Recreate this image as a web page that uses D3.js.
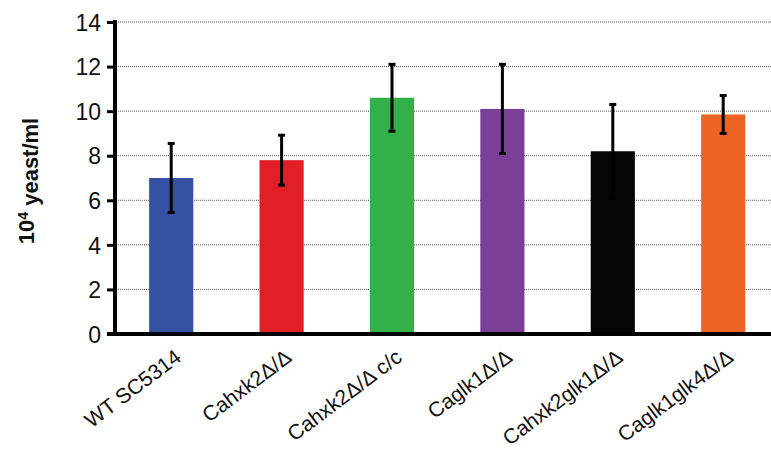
<!DOCTYPE html>
<html><head><meta charset="utf-8">
<script src="https://cdn.jsdelivr.net/npm/d3@7"></script>
<style>body{margin:0;background:#fff}svg{display:block}</style>
</head><body><svg id="c" width="771" height="450"></svg>
<script>
const categories = ["WT SC5314","Cahxk2Δ/Δ","Cahxk2Δ/Δ c/c","Caglk1Δ/Δ","Cahxk2glk1Δ/Δ","Caglk1glk4Δ/Δ"];
const values = [7.0, 7.8, 10.6, 10.1, 8.2, 9.85];
const errors = [1.55, 1.12, 1.5, 2.0, 2.1, 0.85];
const colors = ["#3451a3","#e21f26","#34b04a","#7b3f98","#050505","#eb6424"];
const yTicks = [0,2,4,6,8,10,12,14];

const svg = d3.select("#c");
const x = d3.scaleBand().domain(categories).range([116, 778.4]).paddingInner(0.6).paddingOuter(0.3);
const y = d3.scaleLinear().domain([0,14]).range([334, 22]);

// gridlines
svg.append("g").selectAll("line").data(yTicks.filter(d=>d>0)).join("line")
  .attr("x1",116).attr("x2",771).attr("y1",d=>y(d)).attr("y2",d=>y(d))
  .attr("stroke","#555").attr("stroke-width",1).attr("stroke-dasharray","1,1");

// bars
svg.append("g").selectAll("rect").data(categories).join("rect")
  .attr("x",d=>x(d)).attr("width",x.bandwidth())
  .attr("y",(d,i)=>y(values[i])).attr("height",(d,i)=>y(0)-y(values[i]))
  .attr("fill",(d,i)=>colors[i]);

// error bars
const eg = svg.append("g").attr("stroke","#000").attr("stroke-width",3);
categories.forEach((c,i)=>{
  const cx = x(c)+x.bandwidth()/2;
  eg.append("line").attr("x1",cx).attr("x2",cx).attr("y1",y(values[i]+errors[i])).attr("y2",y(values[i]-errors[i]));
  [values[i]+errors[i], values[i]-errors[i]].forEach(v=>{
    eg.append("line").attr("x1",cx-3.5).attr("x2",cx+3.5).attr("y1",y(v)).attr("y2",y(v));
  });
});

// y axis
const ya = svg.append("g").attr("transform","translate(115,0)")
  .call(d3.axisLeft(y).tickValues(yTicks).tickSize(8).tickPadding(6).tickFormat(d3.format("d")));
ya.select(".domain").remove();
ya.selectAll(".tick line").attr("stroke","#000").attr("stroke-width",3);
ya.selectAll(".tick text").attr("font-family","Liberation Sans, Arial, sans-serif").attr("font-size",23).attr("fill","#111").attr("dy","0.36em");
svg.append("line").attr("x1",115).attr("x2",115).attr("y1",y(14)-2).attr("y2",y(0)+2).attr("stroke","#000").attr("stroke-width",4);
svg.append("line").attr("x1",107).attr("x2",771).attr("y1",y(0)).attr("y2",y(0)).attr("stroke","#000").attr("stroke-width",4);

// x labels
const xa = svg.append("g");
categories.forEach(c=>{
  const cx = x(c)+x.bandwidth()/2;
  xa.append("text").attr("transform",`translate(${cx+7},354) rotate(-37)`)
    .attr("text-anchor","end").attr("dy","0.35em")
    .attr("font-family","Liberation Sans, Arial, sans-serif").attr("font-size",21).attr("fill","#111")
    .text(c);
});

// y title
const t = svg.append("text").attr("transform","translate(34,181) rotate(-90)")
  .attr("text-anchor","middle").attr("font-family","Liberation Sans, Arial, sans-serif")
  .attr("font-size",22).attr("font-weight","bold").attr("fill","#111");
t.append("tspan").text("10");
t.append("tspan").attr("dy","-0.45em").attr("font-size",14).text("4");
t.append("tspan").attr("dy","0.45em").text(" yeast/ml");
</script></body></html>
